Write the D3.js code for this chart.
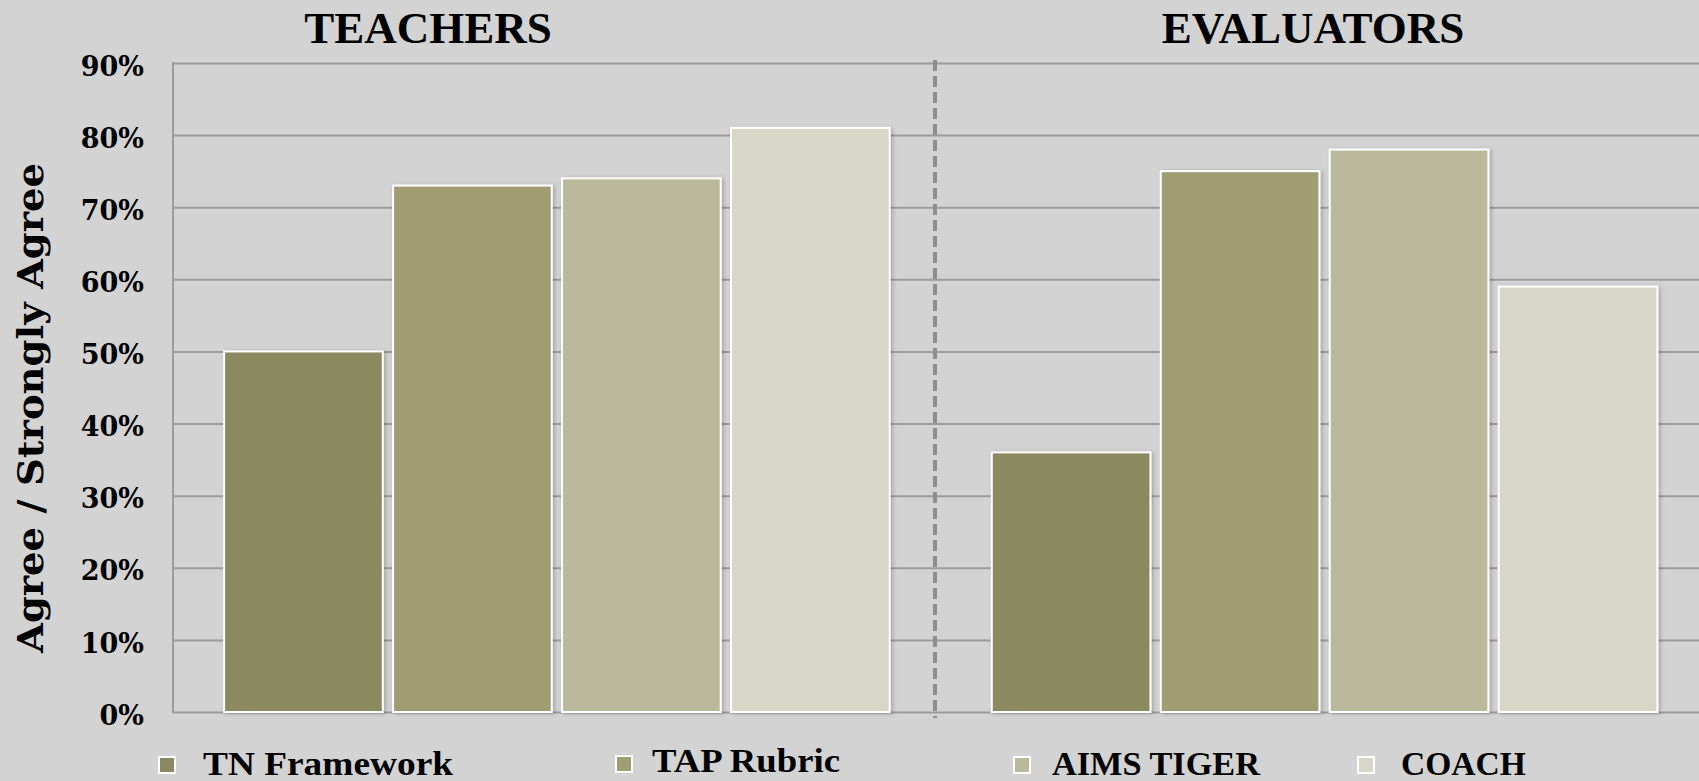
<!DOCTYPE html>
<html>
<head>
<meta charset="utf-8">
<script src="https://cdn.jsdelivr.net/npm/d3@7"></script>
<style>
  html, body { margin: 0; padding: 0; background: #d3d3d3; overflow: hidden; }
  svg { display: block; }
</style>
</head>
<body>
<svg id="chart" width="1699" height="781"></svg>
<script>
// ---- data ----
const groups = ["TEACHERS", "EVALUATORS"];
const series = ["TN Framework", "TAP Rubric", "AIMS TIGER", "COACH"];
const teacherValues = [0.50, 0.73, 0.74, 0.81];
const evaluatorValues = [0.36, 0.75, 0.78, 0.59];
const tickValues = [0, 0.1, 0.2, 0.3, 0.4, 0.5, 0.6, 0.7, 0.8, 0.9];
const yAxisTitle = "Agree / Strongly Agree";

// ---- styles ----
const colors = ["#8a8961", "#a09d72", "#bab99b", "#d7d6c7"];
const W = 1699, H = 781;
const plot = { left: 173, right: 1708.5, top: 63, bottom: 712 };

const svg = d3.select("#chart");
svg.append("rect").attr("width", W).attr("height", H).attr("fill", "#d3d3d3");

const defs = svg.append("defs");
const f = defs.append("filter").attr("id", "shadow")
  .attr("x", "-10%").attr("y", "-10%").attr("width", "130%").attr("height", "130%");
f.append("feDropShadow").attr("dx", 2).attr("dy", 1).attr("stdDeviation", 2)
  .attr("flood-color", "#000").attr("flood-opacity", 0.22);

const x0 = d3.scaleBand().domain(groups).range([plot.left, plot.right])
  .paddingInner(0.133).paddingOuter(0.0666);
const x1 = d3.scaleBand().domain(series).range([0, x0.bandwidth()]).paddingInner(0.061);
const y = d3.scaleLinear().domain([0, 0.9]).range([plot.bottom, plot.top]);

// gridlines
const grid = svg.append("g")
  .attr("transform", `translate(${plot.left},0)`)
  .call(d3.axisLeft(y).tickValues(tickValues).tickSize(-(W - plot.left + 20)).tickFormat(""));
grid.select(".domain").remove();
grid.selectAll(".tick line").attr("stroke", "#9c9c9c").attr("stroke-width", 2);

// left axis line
svg.append("line")
  .attr("x1", plot.left).attr("x2", plot.left)
  .attr("y1", y(0.9) - 1).attr("y2", y(0) + 1)
  .attr("stroke", "#9c9c9c").attr("stroke-width", 2);

// tick labels
const yAxis = svg.append("g")
  .attr("transform", `translate(144,0)`)
  .call(d3.axisLeft(y).tickValues(tickValues).tickSize(0).tickPadding(0).tickFormat(d3.format(".0%")));
yAxis.select(".domain").remove();
yAxis.selectAll(".tick text")
  .attr("x", 0).attr("dy", "0.45em")
  .attr("text-anchor", "end")
  .style("font-family", "'DejaVu Serif', serif")
  .style("font-weight", "bold")
  .style("font-size", "27px")
  .attr("fill", "#000");

// divider
svg.append("line")
  .attr("x1", 935).attr("x2", 935)
  .attr("y1", 60).attr("y2", 718)
  .attr("stroke", "#8e8e8e").attr("stroke-width", 4)
  .attr("stroke-dasharray", "11,5");

// bars
const rows = groups.map((g, i) => ({
  group: g,
  values: (i === 0 ? teacherValues : evaluatorValues).map((v, j) => ({ key: series[j], value: v, idx: j }))
}));

const gg = svg.selectAll("g.grp").data(rows).join("g")
  .attr("class", "grp")
  .attr("transform", d => `translate(${x0(d.group)},0)`);

gg.selectAll("rect").data(d => d.values).join("rect")
  .attr("x", d => x1(d.key))
  .attr("y", d => y(d.value))
  .attr("width", x1.bandwidth())
  .attr("height", d => y(0) - y(d.value))
  .attr("fill", d => colors[d.idx])
  .attr("stroke", "#ffffff")
  .attr("stroke-width", 2)
  .attr("filter", "url(#shadow)");

// group titles
const titlePos = [{ x: 428, y: 43 }, { x: 1313, y: 43 }];
svg.selectAll("text.gtitle").data(groups).join("text")
  .attr("class", "gtitle")
  .attr("x", (d, i) => titlePos[i].x)
  .attr("y", (d, i) => titlePos[i].y)
  .attr("text-anchor", "middle")
  .style("font-family", "'Liberation Serif', serif")
  .style("font-weight", "bold")
  .style("font-size", "45px")
  .attr("fill", "#000")
  .text(d => d);

// y axis title
svg.append("text")
  .attr("transform", "translate(43,408) rotate(-90)")
  .attr("text-anchor", "middle")
  .style("font-family", "'DejaVu Serif', serif")
  .style("font-weight", "bold")
  .style("font-size", "35px")
  .attr("textLength", 490)
  .attr("lengthAdjust", "spacingAndGlyphs")
  .attr("fill", "#000")
  .text(yAxisTitle);

// legend
const legendPos = [
  { mx: 159, my: 757, tx: 203, ty: 775, w: 250 },
  { mx: 616, my: 756, tx: 652, ty: 772, w: 188 },
  { mx: 1014, my: 757, tx: 1052, ty: 775, w: 208 },
  { mx: 1358, my: 757, tx: 1401, ty: 775, w: 125 }
];
const leg = svg.selectAll("g.leg").data(series).join("g").attr("class", "leg");
leg.append("rect")
  .attr("x", (d, i) => legendPos[i].mx)
  .attr("y", (d, i) => legendPos[i].my)
  .attr("width", 16).attr("height", 16)
  .attr("fill", (d, i) => colors[i])
  .attr("stroke", "#fff").attr("stroke-width", 2);
leg.append("text")
  .attr("x", (d, i) => legendPos[i].tx)
  .attr("y", (d, i) => legendPos[i].ty)
  .attr("textLength", (d, i) => legendPos[i].w)
  .attr("lengthAdjust", "spacingAndGlyphs")
  .style("font-family", "'Liberation Serif', serif")
  .style("font-weight", "bold")
  .style("font-size", "33px")
  .attr("fill", "#000")
  .text(d => d);
</script>
</body>
</html>
